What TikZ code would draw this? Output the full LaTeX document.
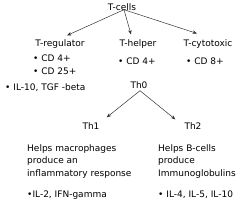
\documentclass[tikz,border=0pt]{standalone}
\usepackage{fontspec}
\setmainfont{DejaVu Sans}
\usetikzlibrary{arrows.meta}
\begin{document}
\begin{tikzpicture}[x=1pt,y=-1pt,
  lbl/.style={inner sep=0pt,font=\fontsize{9}{12}\selectfont},
  para/.style={lbl,anchor=north west,align=left,font=\fontsize{9}{12.5}\selectfont},
  arr/.style={-{Stealth[length=4.5pt,width=3.5pt]},line width=0.5pt,draw=black!80}]
\useasboundingbox (0,0) rectangle (250,202);
\node[lbl] (tcells) at (122,7) {T-cells};
\node[lbl] (treg) at (60,44) {T-regulator};
\node[lbl] (thelp) at (138,44) {T-helper};
\node[lbl] (tcyt) at (208,44) {T-cytotoxic};
\node[lbl,anchor=west] (cd4a) at (33,58) {• CD 4+};
\node[lbl,anchor=west] (cd25) at (33,71) {• CD 25+};
\node[lbl,anchor=west] (cd4b) at (118,61) {• CD 4+};
\node[lbl,anchor=west] (cd8) at (186,61) {• CD 8+};
\node[lbl,anchor=west] (il10) at (5,88) {• IL-10, TGF -beta};
\node[lbl] (th0) at (139,85) {Th0};
\node[lbl] (th1) at (91,126) {Th1};
\node[lbl] (th2) at (193,126) {Th2};
\node[para] (h1) at (27,144) {Helps macrophages\\produce an\\inflammatory response};
\node[para] (h2) at (158,144) {Helps B-cells\\produce\\Immunoglobulins};
\node[lbl,anchor=west] (il2) at (27,195) {•IL-2, IFN-gamma};
\node[lbl,anchor=west] (il4) at (158,195) {• IL-4, IL-5, IL-10};
\coordinate (tc) at ([shift={(2pt,1pt)}]tcells.south);
\coordinate (t0) at ([shift={(1pt,-2pt)}]th0.south);
\draw[arr] (tc) -- ([shift={(7pt,4pt)}]treg.north);
\draw[arr] (tc) -- ([shift={(-7pt,5pt)}]thelp.north);
\draw[arr] (tc) -- ([shift={(-11pt,6pt)}]tcyt.north);
\draw[arr] (t0) -- ([shift={(7pt,5pt)}]th1.north east);
\draw[arr] (t0) -- ([shift={(-9pt,3pt)}]th2.north west);
\end{tikzpicture}
\end{document}
